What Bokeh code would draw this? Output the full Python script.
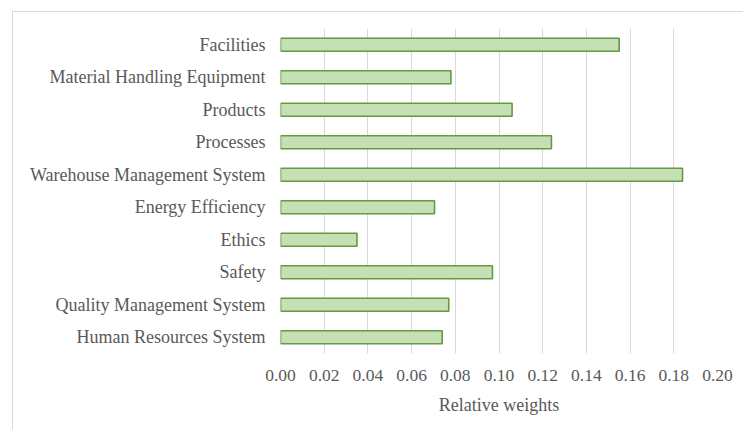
from bokeh.plotting import figure
from bokeh.models import Range1d, FixedTicker, ColumnDataSource, NumeralTickFormatter
from bokeh.embed import file_html
from bokeh.resources import INLINE

categories = [
    "Facilities",
    "Material Handling Equipment",
    "Products",
    "Processes",
    "Warehouse Management System",
    "Energy Efficiency",
    "Ethics",
    "Safety",
    "Quality Management System",
    "Human Resources System",
]
weights = [0.155, 0.078, 0.106, 0.124, 0.184, 0.0705, 0.035, 0.097, 0.077, 0.074]
x_ticks = [0.00, 0.02, 0.04, 0.06, 0.08, 0.10, 0.12, 0.14, 0.16, 0.18, 0.20]

FONT = "Liberation Serif"
TXT = "#595959"

src = ColumnDataSource(dict(cat=categories, w=weights))

p = figure(
    y_range=list(reversed(categories)),
    x_range=Range1d(0, 0.20),
    width=731, height=419,
    output_backend="svg", toolbar_location=None,
    min_border_left=267, min_border_right=27,
    min_border_top=16, min_border_bottom=78,
    margin=(11, 0, 0, 12),
)
p.styles = {"border-left": "1px solid #d9d9d9", "border-top": "1px solid #d9d9d9"}

p.hbar(y="cat", right="w", left=0, height=0.4, source=src,
       fill_color="#c5e0b4", line_color="#639a42", line_width=1.6)

p.outline_line_color = None
p.background_fill_color = "white"
p.border_fill_color = "white"

p.xaxis.ticker = FixedTicker(ticks=x_ticks)
p.xaxis.formatter = NumeralTickFormatter(format="0.00")
p.xaxis.axis_label = "Relative weights"
p.xaxis.axis_label_text_font = FONT
p.xaxis.axis_label_text_font_style = "normal"
p.xaxis.axis_label_text_font_size = "18px"
p.xaxis.axis_label_text_color = TXT
p.xaxis.axis_label_standoff = 11
p.xaxis.major_label_text_font = FONT
p.xaxis.major_label_text_font_size = "17.5px"
p.xaxis.major_label_text_color = TXT
p.xaxis.major_label_standoff = 10
p.xaxis.axis_line_color = None
p.xaxis.major_tick_line_color = None
p.xaxis.minor_tick_line_color = None

p.yaxis.major_label_text_font = FONT
p.yaxis.major_label_text_font_size = "18px"
p.yaxis.major_label_text_color = TXT
p.yaxis.major_label_standoff = 9
p.yaxis.axis_line_color = None
p.yaxis.major_tick_line_color = None
p.yaxis.minor_tick_line_color = None

p.xgrid.grid_line_color = "#d9d9d9"
p.xgrid.grid_line_width = 1
p.ygrid.grid_line_color = None

p.y_range.range_padding = 0

open("out.html", "w").write(file_html(p, INLINE))
